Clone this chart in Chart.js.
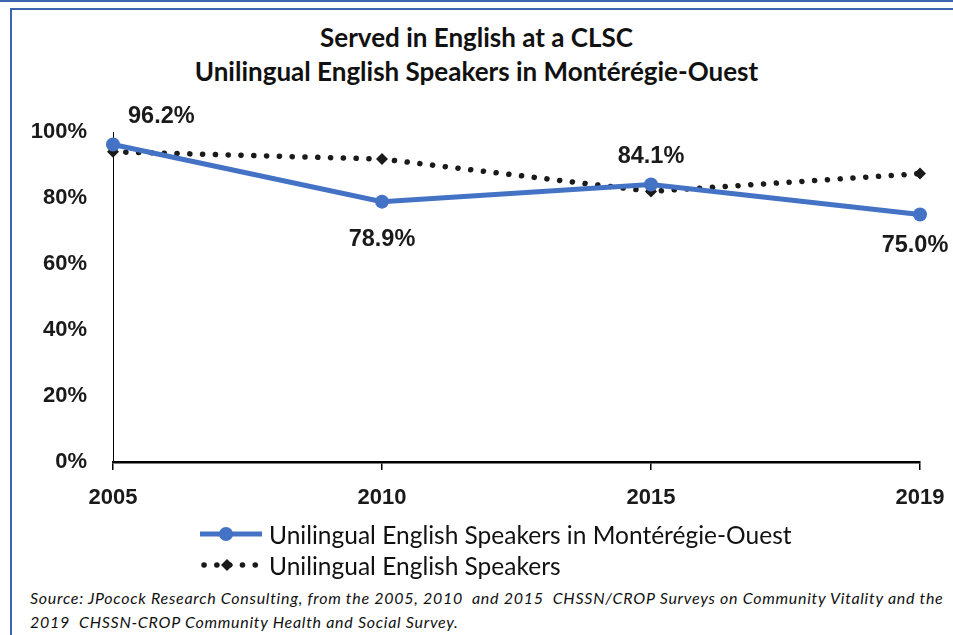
<!DOCTYPE html>
<html>
<head>
<meta charset="utf-8">
<script src="https://cdn.jsdelivr.net/npm/chart.js@4.4.0/dist/chart.umd.min.js"></script>
<style>
  body { margin: 0; background: #fff; width: 953px; height: 635px; position: relative; overflow: hidden; font-family: Lato, "Open Sans", sans-serif; color: #111; }
  #topline { position: absolute; left: 0; top: 0; width: 953px; height: 2px; background: #3c64b1; }
  #frame { position: absolute; left: 10px; top: 8px; width: 960px; height: 640px; border-left: 2px solid #3c64b1; border-top: 2px solid #3c64b1; }
  #title { position: absolute; left: 0; top: 20px; width: 953px; text-align: center; font-weight: bold; font-size: 26px; line-height: 34px; }
  #chart { position: absolute; left: 0; top: 0; }
  .leg { position: absolute; left: 198px; height: 30px; font-size: 24.5px; display: flex; align-items: center; white-space: nowrap; }
  .leg canvas { margin-right: 5px; }
  #source { position: absolute; left: 30px; top: 586px; font-style: italic; font-size: 16px; letter-spacing: 0.72px; line-height: 24px; white-space: nowrap; }
</style>
</head>
<body>
<div id="topline"></div>
<div id="frame"></div>
<div id="title">Served in English at a CLSC<br>Unilingual English Speakers in Montérégie-Ouest</div>
<canvas id="chart" width="953" height="520"></canvas>
<div id="legend"></div>
<div id="source">Source: JPocock Research Consulting, from the 2005, 2010&nbsp; and 2015&nbsp; CHSSN/CROP Surveys on Community Vitality and the<br>2019&nbsp; CHSSN-CROP Community Health and Social Survey.</div>

<script>
// data
const years = ["2005", "2010", "2015", "2019"];
const monteregieOuest = [96.2, 78.9, 84.1, 75.0];
const allUnilingual = [94.0, 91.8, 82.0, 87.4];
const yTicks = [0, 20, 40, 60, 80, 100];
const seriesNames = [
  "Unilingual English Speakers in Montérégie-Ouest",
  "Unilingual English Speakers",
];

const BLUE = "#4472c4";
const DARK = "#1a1a1a";

// label offsets from the point: dx, dy, align
const labelOffsets = [
  [15, -28, "left"],
  [0, 38, "center"],
  [0, -28, "center"],
  [-5, 31, "center"],
];

const valueLabels = {
  id: "valueLabels",
  afterDatasetsDraw(chart) {
    const ctx = chart.ctx;
    const meta = chart.getDatasetMeta(0);
    ctx.save();
    ctx.font = "bold 23.5px 'Liberation Sans', Arial, sans-serif";
    ctx.fillStyle = DARK;
    ctx.textBaseline = "middle";
    meta.data.forEach((pt, i) => {
      const [dx, dy, align] = labelOffsets[i];
      ctx.textAlign = align;
      ctx.fillText(monteregieOuest[i].toFixed(1) + "%", pt.x + dx, pt.y + dy);
    });
    ctx.restore();
  },
};

const chart = new Chart(document.getElementById("chart"), {
  type: "line",
  data: {
    labels: years,
    datasets: [
      {
        label: seriesNames[0],
        data: monteregieOuest,
        borderColor: BLUE,
        backgroundColor: BLUE,
        borderWidth: 5,
        pointRadius: 7,
        pointHoverRadius: 7,
        pointBorderWidth: 0,
        tension: 0,
      },
      {
        label: seriesNames[1],
        data: allUnilingual,
        borderColor: DARK,
        backgroundColor: DARK,
        borderWidth: 5.5,
        borderDash: [0.1, 12.7],
        borderCapStyle: "round",
        pointStyle: "rectRot",
        pointRadius: 6,
        pointBorderWidth: 0,
        tension: 0,
      },
    ],
  },
  options: {
    responsive: false,
    animation: false,
    layout: { padding: { left: 0, right: 33, top: 132, bottom: 0 } },
    plugins: { legend: { display: false }, tooltip: { enabled: false } },
    scales: {
      x: {
        offset: false,
        grid: { drawOnChartArea: false, drawTicks: true, tickLength: 8, color: "#000", lineWidth: 1.5 },
        border: { display: true, color: "#000", width: 2.5 },
        ticks: {
          color: DARK,
          padding: 15,
          maxRotation: 0,
          font: { family: "'Liberation Sans Narrow', 'Liberation Sans', Arial", size: 22, weight: "bold" },
        },
        afterFit: (s) => { s.height = 58; s.paddingLeft = 0; s.paddingRight = 0; },
      },
      y: {
        min: 0,
        max: 100,
        afterBuildTicks: (s) => { s.ticks = yTicks.map((v) => ({ value: v })); },
        grid: { drawOnChartArea: false, drawTicks: false },
        border: { display: true, color: "#000", width: 1 },
        ticks: {
          color: DARK,
          padding: 26,
          callback: (v) => v + "%",
          font: { family: "'Liberation Sans', Arial", size: 22, weight: "bold" },
        },
        afterFit: (s) => { s.width = 113; s.paddingTop = 0; s.paddingBottom = 0; },
      },
    },
  },
  plugins: [valueLabels],
});

// legend rows built from the dataset styles
const legend = document.getElementById("legend");
chart.data.datasets.forEach((ds, i) => {
  const row = document.createElement("div");
  row.className = "leg";
  row.style.top = 519 + i * 31 + "px";
  const icon = document.createElement("canvas");
  icon.width = 66;
  icon.height = 20;
  const c = icon.getContext("2d");
  c.strokeStyle = ds.borderColor;
  c.fillStyle = ds.backgroundColor;
  c.lineWidth = ds.borderWidth;
  c.lineCap = ds.borderCapStyle || "butt";
  c.setLineDash(ds.borderDash || []);
  c.beginPath();
  c.moveTo(ds.borderDash ? 6 : 2, 10);
  c.lineTo(64, 10);
  c.stroke();
  c.setLineDash([]);
  c.beginPath();
  if (ds.pointStyle === "rectRot") {
    const r = ds.pointRadius;
    c.moveTo(29, 10 - r); c.lineTo(29 + r, 10); c.lineTo(29, 10 + r); c.lineTo(29 - r, 10);
    c.closePath();
  } else {
    c.arc(28, 10, ds.pointRadius, 0, Math.PI * 2);
  }
  c.fill();
  const txt = document.createElement("span");
  txt.textContent = ds.label;
  row.append(icon, txt);
  legend.appendChild(row);
});
</script>
</body>
</html>
